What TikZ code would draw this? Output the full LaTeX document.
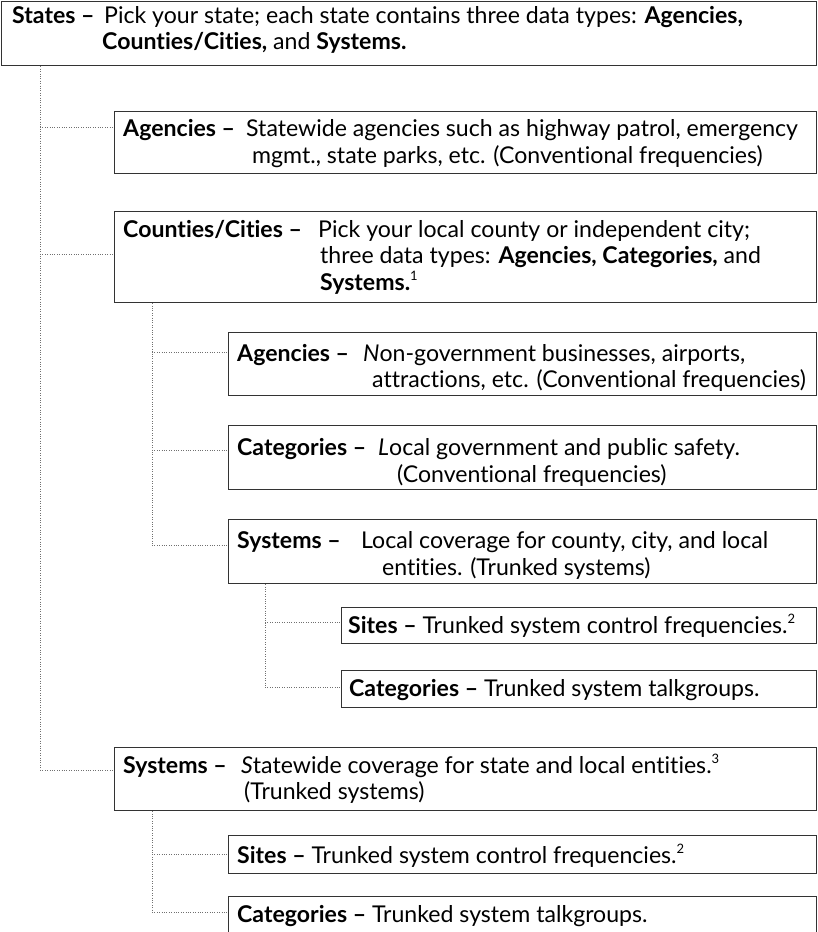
\documentclass[tikz,border=0pt]{standalone}
\usepackage{fontspec}
\setmainfont{Lato}[Ligatures=NoCommon]
\definecolor{boxc}{HTML}{333333}
\definecolor{dotc}{HTML}{707070}
\newcommand{\fnmark}[1]{\textsuperscript{\fontsize{13pt}{13pt}\selectfont #1}}
\begin{document}
\begin{tikzpicture}[x=1pt,y=-1pt,
  every node/.style={font=\fontsize{23.1pt}{28pt}\selectfont},
  box/.style={draw=boxc, line width=1.2pt, anchor=north west, inner sep=0pt, fill=none},
  txt/.style={anchor=base west, inner sep=0pt, text=black},
  dots/.style={draw=dotc, line width=0.8pt, dash pattern=on 0.8pt off 1.6pt}]
\useasboundingbox (0,0) rectangle (817,932);
% boxes
\node[box, minimum width=815pt, minimum height=64.5pt] (states) at (0.6,0.6) {};
\node[box, minimum width=702pt, minimum height=62pt] (agS) at (114,111) {};
\node[box, minimum width=702pt, minimum height=91pt] (cc) at (114,211) {};
\node[box, minimum width=588pt, minimum height=63pt] (agL) at (228,332) {};
\node[box, minimum width=588pt, minimum height=64pt] (catL) at (228,425) {};
\node[box, minimum width=588pt, minimum height=64pt] (sysL) at (228,519) {};
\node[box, minimum width=475pt, minimum height=36pt] (sitL) at (341,607) {};
\node[box, minimum width=475pt, minimum height=37pt] (tgL) at (341,670) {};
\node[box, minimum width=702pt, minimum height=63pt] (sysS) at (114,747) {};
\node[box, minimum width=588pt, minimum height=38pt] (sitS) at (228,835) {};
\node[box, minimum width=588pt, minimum height=36pt] (tgS) at (228,896) {};
% texts
\node[txt] (st1) at (12,23) {\textbf{States –}};
\node[txt] (st2) at (104,23) {Pick your state; each state contains three data types: \textbf{Agencies,}};
\node[txt] (st3) at (102,49) {\textbf{Counties/Cities,} and \textbf{Systems.}};
\node[txt] (ag1) at (123,136) {\textbf{Agencies –}};
\node[txt] (ag2) at (246,136) {Statewide agencies such as highway patrol, emergency};
\node[txt] (ag3) at (252,163) {mgmt., state parks, etc. (Conventional frequencies)};
\node[txt] (cc1) at (123,237) {\textbf{Counties/Cities –}};
\node[txt] (cc2) at (318,237) {Pick your local county or independent city;};
\node[txt] (cc3) at (320,263) {three data types: \textbf{Agencies, Categories,} and};
\node[txt] (cc4) at (320,290) {\textbf{Systems.}\fnmark{1}};
\node[txt] (al1) at (237,361) {\textbf{Agencies –}};
\node[txt] (al2) at (363,361) {\textit{N}on-government businesses, airports,};
\node[txt] (al3) at (372,387) {attractions, etc. (Conventional frequencies)};
\node[txt] (cl1) at (237,455) {\textbf{Categories –}};
\node[txt] (cl2) at (378,455) {\textit{L}ocal government and public safety.};
\node[txt] (cl3) at (397,482) {(Conventional frequencies)};
\node[txt] (sl1) at (237,548) {\textbf{Systems –}};
\node[txt] (sl2) at (361,548) {Local coverage for county, city, and local};
\node[txt] (sl3) at (382,575) {entities. (Trunked systems)};
\node[txt] (stl) at (348,633) {\textbf{Sites –} Trunked system control frequencies.\fnmark{2}};
\node[txt] (tgl) at (349,696) {\textbf{Categories –} Trunked system talkgroups.};
\node[txt] (ss1) at (123,773) {\textbf{Systems –}};
\node[txt] (ss2) at (241,773) {\textit{S}tatewide coverage for state and local entities.\fnmark{3}};
\node[txt] (ss3) at (244,799) {(Trunked systems)};
\node[txt] (sts) at (237,863) {\textbf{Sites –} Trunked system control frequencies.\fnmark{2}};
\node[txt] (tgs) at (237,922) {\textbf{Categories –} Trunked system talkgroups.};
% connector junctions
\coordinate (j1) at (40,127);
\coordinate (j2) at (40,254);
\coordinate (j3) at (40,770);
\coordinate (k1) at (152,352);
\coordinate (k2) at (152,450);
\coordinate (k3) at (152,545);
\coordinate (m1) at (265,622);
\coordinate (m2) at (265,687);
\coordinate (n1) at (152,854);
\coordinate (n2) at (152,912);
% connectors
\draw[dots] (states.south -| j1) -- (j3);
\draw[dots] (j1) -- (agS.west |- j1);
\draw[dots] (j2) -- (cc.west |- j2);
\draw[dots] (j3) -- (sysS.west |- j3);
\draw[dots] (cc.south -| k1) -- (k3);
\draw[dots] (k1) -- (agL.west |- k1);
\draw[dots] (k2) -- (catL.west |- k2);
\draw[dots] (k3) -- (sysL.west |- k3);
\draw[dots] (sysL.south -| m1) -- (m2);
\draw[dots] (m1) -- (sitL.west |- m1);
\draw[dots] (m2) -- (tgL.west |- m2);
\draw[dots] (sysS.south -| n1) -- (n2);
\draw[dots] (n1) -- (sitS.west |- n1);
\draw[dots] (n2) -- (tgS.west |- n2);
\end{tikzpicture}
\end{document}
